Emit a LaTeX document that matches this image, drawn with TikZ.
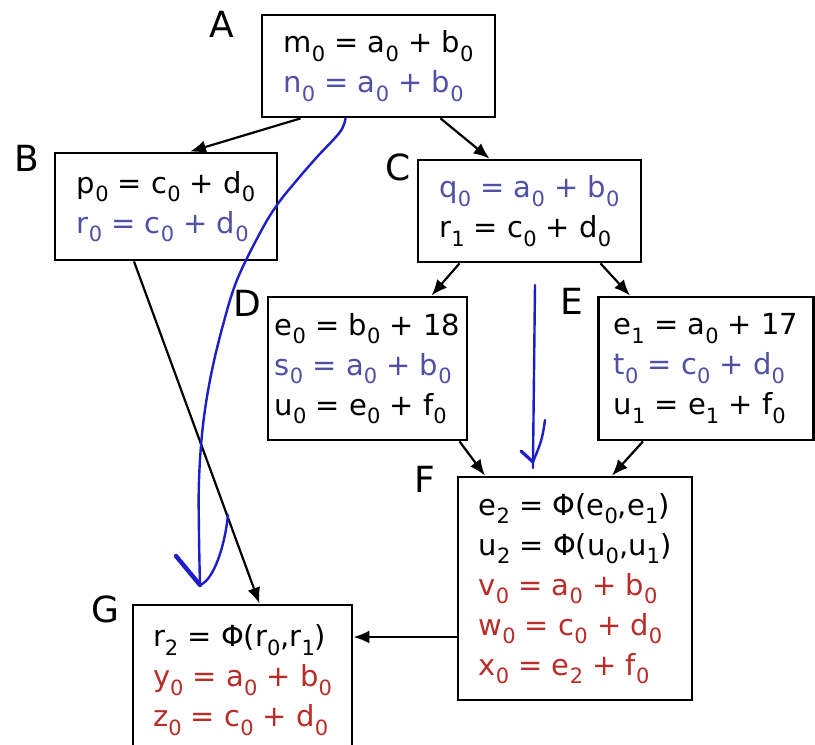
\documentclass[tikz,border=0pt]{standalone}
\usepackage{fontspec}
\setmainfont{DejaVu Sans}
\usetikzlibrary{arrows.meta, calc}

\definecolor{slate}{RGB}{80,80,165}
\definecolor{brick}{RGB}{185,45,40}
\definecolor{pen}{RGB}{30,30,200}

\newcommand{\ix}[1]{\raisebox{-0.55ex}{\fontsize{10.5}{10.5}\selectfont #1}}

\begin{document}
\begin{tikzpicture}[x=0.5pt, y=-0.5pt, >={Latex[length=8pt,width=6.5pt]}, line width=1.1pt,
    block/.style={draw, line width=1.4pt, align=left, inner sep=0pt,
        font=\fontsize{14.5}{20}\selectfont},
    tag/.style={font=\fontsize{18}{18}\selectfont},
    hand/.style={pen, line width=1.2pt, line cap=round}]
        \useasboundingbox (0,0) rectangle (815,745);
        \fill[white] (0,0) rectangle (815,745);

        % blocks
        \node[block, minimum width=116.5pt, minimum height=51pt] (A) at (378.5,66)
            {m\ix0 = a\ix0 + b\ix0\\ \textcolor{slate}{n\ix0 = a\ix0 + b\ix0}};
        \node[block, minimum width=111pt, minimum height=53.5pt] (B) at (166,206.5)
            {p\ix0 = c\ix0 + d\ix0\\ \textcolor{slate}{r\ix0 = c\ix0 + d\ix0}};
        \node[block, minimum width=111.5pt, minimum height=51pt] (C) at (529.5,211)
            {\textcolor{slate}{q\ix0 = a\ix0 + b\ix0}\\ r\ix1 = c\ix0 + d\ix0};
        \node[block, minimum width=99.5pt, minimum height=71.5pt] (D) at (367.5,368.5)
            {e\ix0 = b\ix0 + 18\\ \textcolor{slate}{s\ix0 = a\ix0 + b\ix0}\\ u\ix0 = e\ix0 + f\ix0};
        \node[block, minimum width=107.5pt, minimum height=71.5pt] (E) at (706,368.5)
            {e\ix1 = a\ix0 + 17\\ \textcolor{slate}{t\ix0 = c\ix0 + d\ix0}\\ u\ix1 = e\ix1 + f\ix0};
        \node[block, minimum width=117pt, minimum height=111.5pt] (F) at (575,588.5)
            {e\ix2 = Φ(e\ix0,e\ix1)\\ u\ix2 = Φ(u\ix0,u\ix1)\\
             \textcolor{brick}{v\ix0 = a\ix0 + b\ix0}\\
             \textcolor{brick}{w\ix0 = c\ix0 + d\ix0}\\
             \textcolor{brick}{x\ix0 = e\ix2 + f\ix0}};
        \node[block, minimum width=109.5pt, minimum height=75pt] (G) at (242.5,680)
            {r\ix2 = Φ(r\ix0,r\ix1)\\
             \textcolor{brick}{y\ix0 = a\ix0 + b\ix0}\\
             \textcolor{brick}{z\ix0 = c\ix0 + d\ix0}};

        % block names
        \node[tag] (lA) at (222,24) {A};
        \node[tag] (lB) at (27,158) {B};
        \node[tag] (lC) at (398,167) {C};
        \node[tag] (lD) at (247,303) {D};
        \node[tag] (lE) at (572,301) {E};
        \node[tag] (lF) at (425,479) {F};
        \node[tag] (lG) at (105,609) {G};

        % control flow
        \draw[->] ($(A.south)+(-78,0)$) -- ($(B.north)+(24,0)$);
        \draw[->] ($(A.south)+(62,0)$) -- ($(C.north)+(-40,0)$);
        \draw[->] ($(C.south)+(-70,0)$) -- ($(D.north)+(64,0)$);
        \draw[->] ($(C.south)+(71,0)$) -- ($(E.north)+(-76,0)$);
        \draw[->] ($(D.south)+(92,0)$) -- ($(F.north)+(-90,0)$);
        \draw[->] ($(E.south)+(-63,0)$) -- ($(F.north)+(37,0)$);
        \draw[->] ($(B.south)+(-32,0)$) -- ($(G.north)+(17,0)$);
        \draw[->] ($(F.west)+(0,48.5)$) -- ($(G.east)+(0,-43)$);

        % hand drawn motion arrows
        \coordinate (tipG) at (200,585);
        \coordinate (tipF) at (533,462);
        \draw[hand] plot[smooth, tension=0.6] coordinates {($(A.south)+(-33,0)$) (340,132)
            (317,157) (297,180) (277,205) (260,233) (237,280) (223,325) (211,375)
            (203,425) (199,480) (199,535) (tipG)};
        \draw[hand, line width=2.2pt] (176,556) -- (tipG);
        \draw[hand] (tipG) .. controls (214,580) and (225,545) .. (228,515);
        \draw[hand] (535,285) -- (tipF) -- (533,468);
        \draw[hand, line width=1.6pt] (521,451) -- (tipF);
        \draw[hand] (545,420) .. controls (542,440) .. (tipF);
\end{tikzpicture}
\end{document}
